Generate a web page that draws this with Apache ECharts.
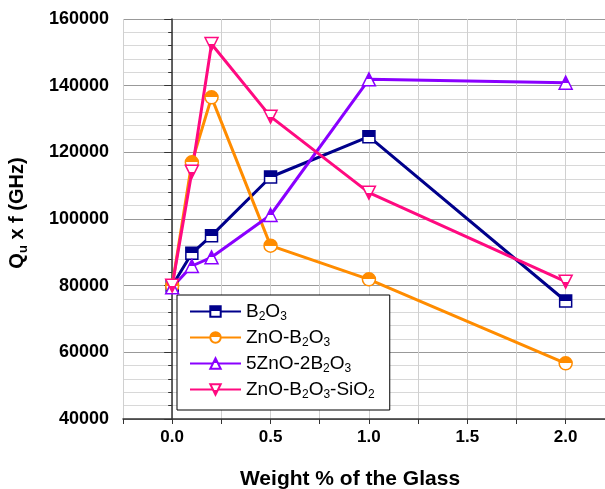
<!DOCTYPE html>
<html>
<head>
<meta charset="utf-8">
<script src="https://cdn.jsdelivr.net/npm/echarts@6/dist/echarts.min.js"></script>
<style>
html,body{margin:0;padding:0;background:#fff;}
#chart{width:605px;height:489px;}
</style>
</head>
<body>
<div id="chart"></div>
<script>
var weight=[0,0.1,0.2,0.5,1.0,2.0];
var b2o3=[80000,89700,95000,112600,124700,75400];
var znoB2o3=[80000,117000,136500,92000,81900,56700];
var zno5B2o3=[79500,85900,88500,101200,141900,140900];
var znoB2o3Sio2=[80000,114200,152500,130700,107900,81200];
var names=["B2O3","ZnO-B2O3","5ZnO-2B2O3","ZnO-B2O3-SiO2"];
var richNames={
	"B2O3":"{n|B}{s|2}{n|O}{s|3}",
	"ZnO-B2O3":"{n|ZnO-B}{s|2}{n|O}{s|3}",
	"5ZnO-2B2O3":"{n|5ZnO-2B}{s|2}{n|O}{s|3}",
	"ZnO-B2O3-SiO2":"{n|ZnO-B}{s|2}{n|O}{s|3}{n|-SiO}{s|2}"
};
var font="Liberation Sans";

function pairs(vals){
	var out=[];
	for(var i=0;i<weight.length;i++){out.push([weight[i],vals[i]]);}
	return out;
}
function half(c){
	return {type:"linear",x:0,y:0,x2:0,y2:1,colorStops:[
		{offset:0,color:c},{offset:0.5,color:c},{offset:0.5,color:"#fff"},{offset:1,color:"#fff"}]};
}
function mk(name,vals,color,symbol,rot){
	return {
		name:name,type:"line",data:pairs(vals),
		symbol:symbol,symbolSize:symbol=="rect"?12:13,symbolRotate:rot||0,
		lineStyle:{color:color,width:3},
		itemStyle:{color:half(color),borderColor:color,borderWidth:1.5},
		z:5
	};
}

var myChart=echarts.init(document.getElementById("chart"));
myChart.setOption({
	animation:false,
	grid:{left:123,top:19,right:0,bottom:70,outerBoundsMode:"none"},
	legend:{
		orient:"vertical",left:177,top:295,
		itemWidth:51,itemHeight:13,itemGap:5,
		padding:[7,15,9,12],
		borderColor:"#000",borderWidth:1,backgroundColor:"#fff",
		data:names,
		formatter:function(n){return richNames[n];},
		textStyle:{
			rich:{
				n:{fontFamily:font,fontSize:19,color:"#000",lineHeight:23},
				s:{fontFamily:font,fontSize:12,color:"#000",lineHeight:8,verticalAlign:"bottom"}
			}
		}
	},
	xAxis:{
		type:"value",min:-0.25,max:2.2,interval:0.25,
		name:"Weight % of the Glass",nameLocation:"middle",nameGap:50,
		nameTextStyle:{fontFamily:font,fontSize:21,fontWeight:"bold",color:"#000",padding:[0,28,0,0]},
		axisLine:{onZero:false,lineStyle:{color:"#333",width:1.5}},
		axisTick:{show:true,length:5,lineStyle:{color:"#333"}},
		axisLabel:{
			fontFamily:font,fontSize:17,fontWeight:"bold",color:"#000",margin:10,
			formatter:function(v){
				var r=Math.round(v*100);
				if(r<0||r%50!=0)return "";
				return (r/100).toFixed(1);
			}
		},
		splitLine:{show:true,lineStyle:{color:"#d0d0d0",width:1}}
	},
	yAxis:{
		type:"value",min:40000,max:160000,interval:20000,
		name:"{n|Q}{s|u}{n| x f (GHz)}",nameLocation:"middle",nameGap:93,nameRotate:90,
		nameTextStyle:{
			rich:{
				n:{fontFamily:font,fontSize:20,fontWeight:"bold",color:"#000",lineHeight:26},
				s:{fontFamily:font,fontSize:13,fontWeight:"bold",color:"#000",lineHeight:10,verticalAlign:"bottom"}
			},
			padding:[0,0,0,12]
		},
		axisLine:{show:true,lineStyle:{color:"#333",width:1.5}},
		axisTick:{show:true,length:8,lineStyle:{color:"#333"}},
		minorTick:{show:true,splitNumber:5,length:4,lineStyle:{color:"#333"}},
		axisLabel:{fontFamily:font,fontSize:18,fontWeight:"bold",color:"#000",margin:14,
			formatter:function(v){return String(v);}},
		splitLine:{show:true,lineStyle:{color:"#999",width:1.2}},
		minorSplitLine:{show:true,lineStyle:{color:"#d8d8d8",width:1}}
	},
	series:[
		mk(names[0],b2o3,"#00008b","rect"),
		mk(names[1],znoB2o3,"#ff8c00","circle"),
		mk(names[2],zno5B2o3,"#8a00ff","triangle"),
		mk(names[3],znoB2o3Sio2,"#ff0a80","triangle",180)
	]
});
</script>
</body>
</html>
